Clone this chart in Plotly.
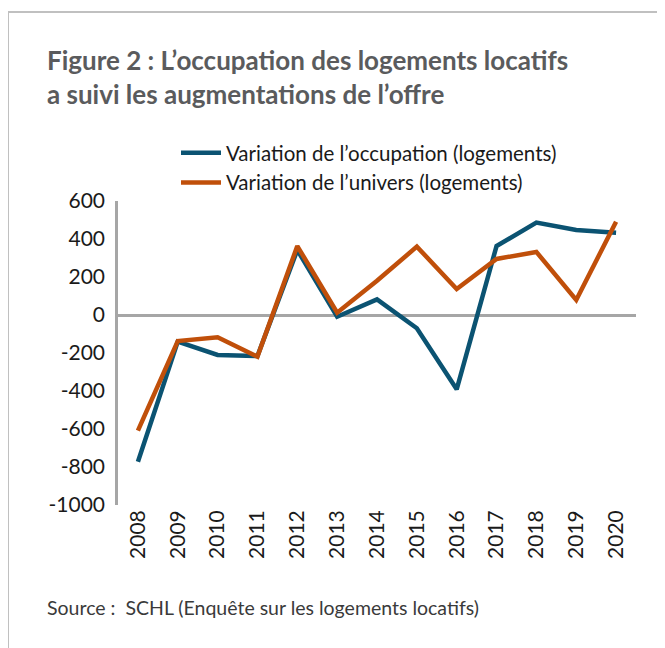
import plotly.graph_objects as go

years = ["2008", "2009", "2010", "2011", "2012", "2013", "2014",
         "2015", "2016", "2017", "2018", "2019", "2020"]
occupation = [-772, -140, -210, -216, 342, -9, 82, -70, -391, 363, 486, 447, 433]
univers = [-609, -137, -117, -219, 363, 12, 180, 360, 137, 295, 332, 79, 491]
y_ticks = [-1000, -800, -600, -400, -200, 0, 200, 400, 600]
y_labels = ["-1000", "-800", "-600", "-400", "-200", "0", "200", "400", "600"]

blue = "#0b5372"
orange = "#c04f0a"
grey_axis = "#a6a6a6"

# page a 8px de marge: zone du graphique a l'ecran x 118..636, y 201..505
def px(x):
    return (x - 118) / 518

def py(y):
    return (505 - y) / 304

fig = go.Figure()
fig.add_trace(go.Scatter(x=years, y=occupation, mode="lines",
                         name="Variation de l\u2019occupation (logements)",
                         line=dict(color=blue, width=4.5)))
fig.add_trace(go.Scatter(x=years, y=univers, mode="lines",
                         name="Variation de l\u2019univers (logements)",
                         line=dict(color=orange, width=4.5)))

fig.update_layout(
    width=665, height=648,
    margin=dict(l=110, r=37, t=193, b=151),
    plot_bgcolor="white", paper_bgcolor="white",
    font=dict(family="Lato, Open Sans, sans-serif", color="#1a1a1a", size=21),
    showlegend=True,
    legend=dict(x=px(176), y=py(133), xanchor="left", yanchor="top",
                font=dict(size=20.5, color="#1a1a1a"), bgcolor="rgba(0,0,0,0)",
                tracegroupgap=0, itemwidth=40),
    xaxis=dict(showgrid=False, showline=False, ticks="", tickangle=-90,
               range=[-0.5, 12.5], tickfont=dict(size=21)),
    yaxis=dict(range=[-1000, 600], tickvals=y_ticks, ticktext=y_labels,
               showgrid=False, showline=True, linecolor=grey_axis, linewidth=2.5,
               zeroline=True, zerolinecolor=grey_axis, zerolinewidth=2.5,
               ticks="", tickfont=dict(size=21), ticklabelstandoff=6),
)

fig.add_annotation(xref="paper", yref="paper", x=px(45), y=py(42),
                   xanchor="left", yanchor="top", align="left", showarrow=False,
                   text="<b>Figure 2 : L\u2019occupation des logements locatifs<br>a suivi les augmentations de l\u2019offre</b>",
                   font=dict(size=26, color="#5a5b5d", family="Lato, sans-serif"))
fig.add_annotation(xref="paper", yref="paper", x=px(45), y=py(607),
                   xanchor="left", yanchor="middle", showarrow=False,
                   text="Source :  SCHL (Enqu\u00eate sur les logements locatifs)",
                   font=dict(size=19.5, color="#3a3a3a", family="Lato, sans-serif"))

# cadre
fig.add_shape(type="line", xref="paper", yref="paper", x0=px(8), x1=px(680),
              y0=py(12), y1=py(12), line=dict(color="#c0c0c0", width=2))
fig.add_shape(type="line", xref="paper", yref="paper", x0=px(8), x1=px(8),
              y0=py(12), y1=py(660), line=dict(color="#c0c0c0", width=2))

fig.write_html("out.html")
